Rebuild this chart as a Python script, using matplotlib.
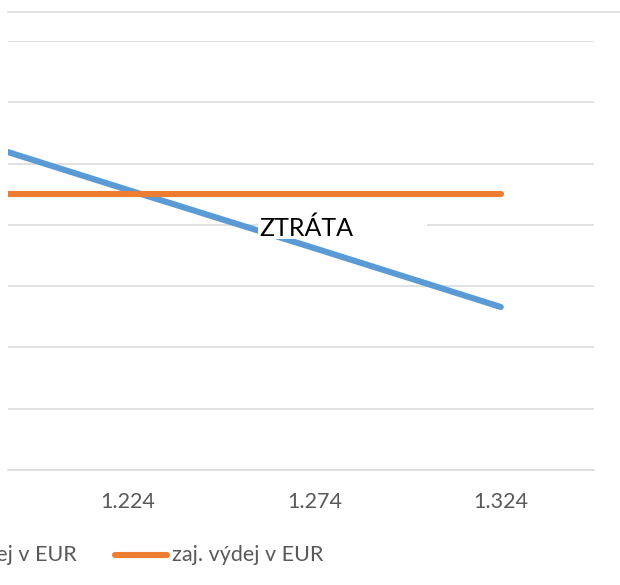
import matplotlib
matplotlib.use('Agg')
import matplotlib.pyplot as plt
from matplotlib.lines import Line2D
from matplotlib.patches import Rectangle

plt.rcParams['font.family'] = ['Lato', 'DejaVu Sans']

# data (EUR, y axis labels are cropped away)
kurzy = ['1.174', '1.224', '1.274', '1.324']
nezaj_vydej = [5530, 4570, 3620, 2660]
zaj_vydej = [4500, 4500, 4500, 4500]
y_ticks = [0, 1000, 2000, 3000, 4000, 5000, 6000, 7000]

BLUE = '#5B9BD5'
ORANGE = '#ED7D31'
GRID = '#D9D9D9'
TEXT = '#595959'

W, H = 620, 585
fig = plt.figure(figsize=(W / 100, H / 100), dpi=100)

def px(x, y):
    return x / W, 1 - y / H

# plot area: left edge of the original chart is cut off
left, top, right, bottom = 8, 41, 594, 470
ax = fig.add_axes([left / W, 1 - bottom / H, (right - left) / W, (bottom - top) / H])

pos = list(range(len(kurzy)))
ax.plot(pos, nezaj_vydej, color=BLUE, lw=4.4, solid_capstyle='round', zorder=3)
ax.plot(pos, zaj_vydej, color=ORANGE, lw=4.4, solid_capstyle='round', zorder=3)

ax.set_xticks(pos)
ax.set_xticklabels(kurzy, fontsize=15.5, color=TEXT)
ax.tick_params(axis='x', length=0, pad=16)
ax.set_yticks(y_ticks)
ax.set_yticklabels([])
ax.tick_params(axis='y', length=0)
ax.set_xlim(0.357, 3.5)
ax.set_ylim(y_ticks[0], y_ticks[-1])
ax.yaxis.grid(True, color=GRID, lw=1.1)
for s in ['left', 'right', 'top']:
    ax.spines[s].set_visible(False)
ax.spines['bottom'].set_color(GRID)
ax.spines['bottom'].set_linewidth(1.1)
ax.set_axisbelow(True)

# top border line of the chart
x0, y0 = px(8, 12)
x1, _ = px(620, 12)
fig.add_artist(Line2D([x0, x1], [y0, y0], color=GRID, lw=1.1))

# "ZTRÁTA" text box with white fill
bx, by = px(258, 239)
fig.add_artist(Rectangle((bx, by), 169 / W, 32 / H, facecolor='white',
                         edgecolor='none', zorder=2))
tx, ty = px(259, 228)
fig.text(tx, ty, 'ZTRÁTA', fontsize=18, color='black', ha='left', va='center', zorder=4)

# legend (first entry cut off on the left)
lx, ly = px(77, 555)
fig.text(lx, ly, 'nezaj. výdej v EUR', fontsize=15.5, color=TEXT, ha='right', va='center')
a, ly = px(115, 555)
b, _ = px(167, 555)
fig.add_artist(Line2D([a, b], [ly, ly], color=ORANGE, lw=4.4, solid_capstyle='round'))
lx, _ = px(172, 555)
fig.text(lx, ly, 'zaj. výdej v EUR', fontsize=15.5, color=TEXT, ha='left', va='center')

fig.savefig('out.png', dpi=100)
